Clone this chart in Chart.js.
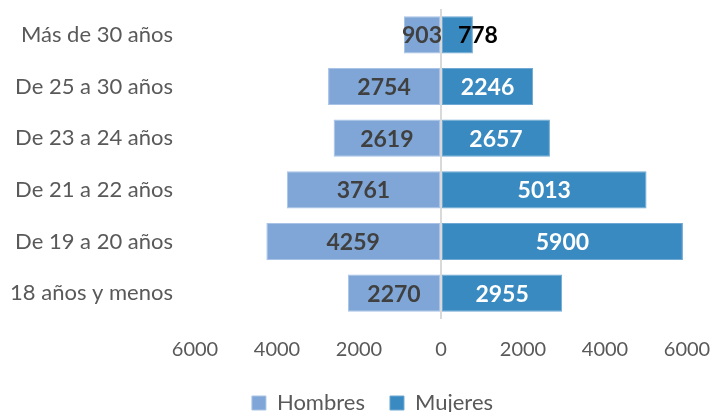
<!DOCTYPE html>
<html>
<head>
<meta charset="utf-8">
<script src="https://cdn.jsdelivr.net/npm/chart.js@4/dist/chart.umd.min.js"></script>
<style>
	html, body { margin: 0; padding: 0; background: #fff; }
	#wrap { width: 715px; height: 412px; }
</style>
</head>
<body>
<div id="wrap"><canvas id="pyramid"></canvas></div>
<script>
const AGE_LABELS = [
	'Más de 30 años',
	'De 25 a 30 años',
	'De 23 a 24 años',
	'De 21 a 22 años',
	'De 19 a 20 años',
	'18 años y menos'
]

const HOMBRES = [903, 2754, 2619, 3761, 4259, 2270]
const MUJERES = [778, 2246, 2657, 5013, 5900, 2955]

const X_TICKS = [-6000, -4000, -2000, 0, 2000, 4000, 6000]

const FONT = 'Lato, "Open Sans", sans-serif'
const CLEAR = 'rgba(0,0,0,0)'

// draws the numbers inside the bars
const barLabels = {
	id: 'barLabels',
	afterDatasetsDraw(chart) {
		const ctx = chart.ctx
		ctx.save()
		ctx.font = 'bold 23px ' + FONT
		ctx.textBaseline = 'middle'
		ctx.textAlign = 'center'
		chart.data.datasets.forEach((ds, i) => {
			const meta = chart.getDatasetMeta(i)
			meta.data.forEach((bar, j) => {
				const txt = String(Math.abs(ds.data[j]))
				const w = ctx.measureText(txt).width
				const barW = Math.abs(bar.x - bar.base)
				let x = (bar.x + bar.base) / 2
				let color = ds.labelColor
				if (ds.data[j] > 0 && w > barW + 4) {
					x = bar.x + 5
					color = '#000000'
				}
				ctx.fillStyle = color
				ctx.fillText(txt, x, bar.y + 1)
			})
		})
		ctx.restore()
	}
}

// nudge the legend right and up a bit
const legendShift = {
	id: 'legendShift',
	afterLayout(chart) {
		const lg = chart.legend
		lg.left += 29
		lg.right += 29
		lg.top -= 5
		lg.bottom -= 5
	}
}

const data_pyr = {
	labels: AGE_LABELS,
	datasets: [
		{
			label: 'Hombres',
			data: HOMBRES.map(v => -v),
			backgroundColor: '#7FA6D6',
			borderColor: '#A9C3E6',
			borderWidth: 1,
			borderSkipped: false,
			labelColor: '#404040',
			barPercentage: 0.72,
			categoryPercentage: 1
		},
		{
			label: 'Mujeres',
			data: MUJERES,
			backgroundColor: '#388AC0',
			borderColor: '#6FA9D3',
			borderWidth: 1,
			borderSkipped: false,
			labelColor: '#FFFFFF',
			barPercentage: 0.72,
			categoryPercentage: 1
		}
	]
}

const config_pyr = {
	type: 'bar',
	data: data_pyr,
	plugins: [barLabels, legendShift],
	options: {
		indexAxis: 'y',
		responsive: true,
		maintainAspectRatio: false,
		animation: false,
		layout: {
			padding: { left: 0, right: 28, top: 9, bottom: -17 }
		},
		plugins: {
			legend: {
				position: 'bottom',
				labels: {
					boxWidth: 14,
					boxHeight: 14,
					padding: 25,
					color: '#595959',
					font: { family: FONT, size: 22 }
				}
			},
			tooltip: { enabled: false },
			title: { display: false }
		},
		scales: {
			x: {
				stacked: true,
				min: -6000,
				max: 6000,
				afterBuildTicks: axis => {
					axis.ticks = X_TICKS.map(v => ({ value: v }))
				},
				afterFit: axis => { axis.height = 53 },
				ticks: {
					callback: v => Math.abs(v),
					color: '#595959',
					padding: 0,
					maxRotation: 0,
					font: { family: FONT, size: 20 }
				},
				grid: {
					drawTicks: true,
					tickLength: 19,
					tickColor: CLEAR,
					color: c => (c.tick && c.tick.value === 0 ? '#D9D9D9' : CLEAR),
					lineWidth: 2
				},
				border: { display: false }
			},
			y: {
				stacked: true,
				afterFit: axis => { axis.width = 195 },
				ticks: {
					color: '#595959',
					padding: 0,
					font: { family: FONT, size: 22, lineHeight: 0.8 }
				},
				grid: {
					display: true,
					drawOnChartArea: false,
					drawTicks: true,
					tickLength: 22,
					tickColor: CLEAR,
					color: CLEAR
				},
				border: { display: false }
			}
		}
	}
}

const pyramid = new Chart(
	document.getElementById('pyramid'),
	config_pyr
)
</script>
</body>
</html>
